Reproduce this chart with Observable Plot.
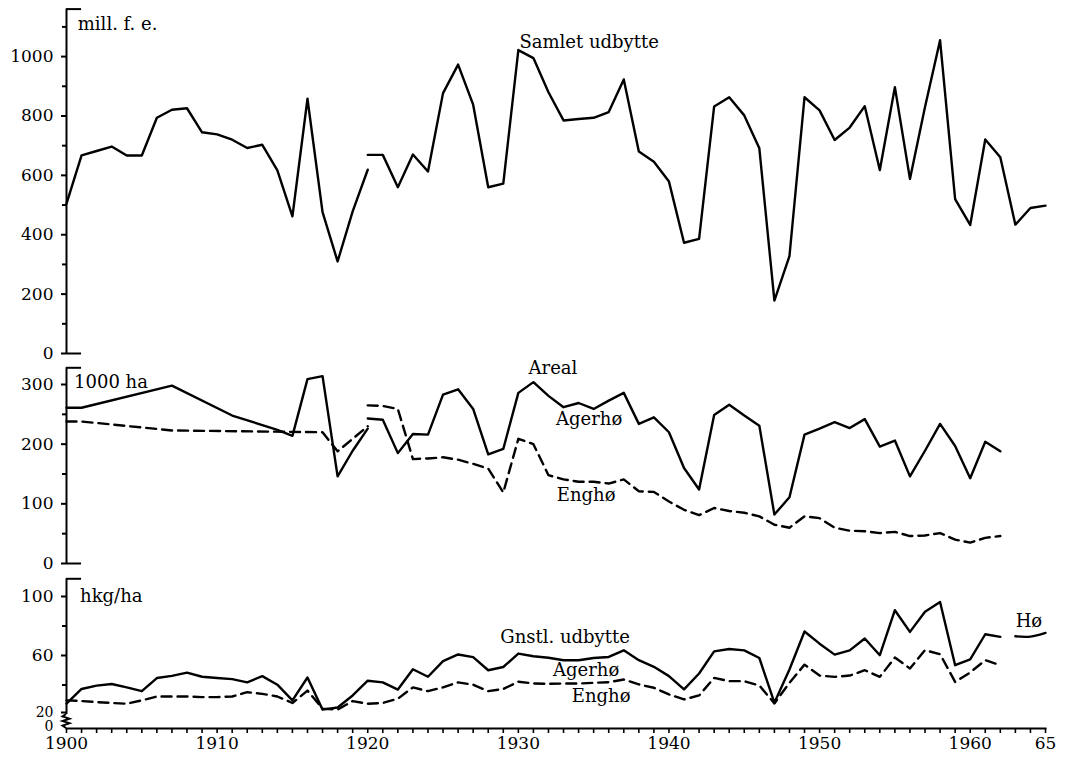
<!DOCTYPE html>
<html><head><meta charset="utf-8">
<script src="https://cdn.jsdelivr.net/npm/d3@7"></script>
<script src="https://cdn.jsdelivr.net/npm/@observablehq/plot@0.6"></script>
<style>
html,body{margin:0;padding:0;background:#fff;}
#chart{width:1068px;height:763px;position:relative;overflow:hidden;background:#fff;}
#chart svg{display:block;}
</style></head><body><div id="chart"></div>
<script>
// ---- Samlet udbytte (mill. f. e.) ----
const yearsOld = [1900,1901,1902,1903,1904,1905,1906,1907,1908,1909,1910,1911,1912,1913,1914,1915,1916,1917,1918,1919,1920];
const samletOld = [505,667,682,697,667,667,794,821,826,745,738,720,692,703,617,462,858,476,310,479,619];
const yearsNew = [1920,1921,1922,1923,1924,1925,1926,1927,1928,1929,1930,1931,1932,1933,1934,1935,1936,1937,1938,1939,1940,1941,1942,1943,1944,1945,1946,1947,1948,1949,1950,1951,1952,1953,1954,1955,1956,1957,1958,1959,1960,1961,1962,1963,1964,1965];
const samletNew = [669,669,560,670,613,877,973,838,560,572,1022,995,880,785,790,794,813,923,680,646,579,373,386,832,863,802,691,178,328,863,819,719,761,833,618,897,588,830,1055,520,433,721,661,434,490,498];

// ---- Areal (1000 ha) ----
const arealAgerOldYears = [1900,1901,1907,1911,1914,1915,1916,1917,1918,1919,1920];
const arealAgerOld = [261,261,298,248,224,214,309,314,146,189,226];
const arealEngOldYears = [1900,1901,1907,1917,1918,1919,1920];
const arealEngOld = [238,238,223,220,188,209,230];
const yearsArealNew = [1920,1921,1922,1923,1924,1925,1926,1927,1928,1929,1930,1931,1932,1933,1934,1935,1936,1937,1938,1939,1940,1941,1942,1943,1944,1945,1946,1947,1948,1949,1950,1951,1952,1953,1954,1955,1956,1957,1958,1959,1960,1961,1962];
const arealAgerNew = [243,241,185,217,216,283,292,259,183,192,286,304,281,262,269,259,273,286,234,245,220,160,124,249,266,248,231,82,111,216,226,237,227,242,196,206,146,189,234,197,143,204,188];
const arealEngNew = [265,264,259,175,176,178,174,167,159,119,209,200,148,141,137,137,134,141,121,120,104,90,81,93,88,85,79,65,60,79,76,60,55,54,51,53,46,47,51,40,35,43,46];

// ---- Udbytte pr. ha (hkg/ha) ----
const yearsYield = [1900,1901,1902,1903,1904,1905,1906,1907,1908,1909,1910,1911,1912,1913,1914,1915,1916,1917,1918,1919,1920,1921,1922,1923,1924,1925,1926,1927,1928,1929,1930,1931,1932,1933,1934,1935,1936,1937,1938,1939,1940,1941,1942,1943,1944,1945,1946,1947,1948,1949,1950,1951,1952,1953,1954,1955,1956,1957,1958,1959,1960,1961,1962];
const gnstlYield = [27.3,37.3,39.6,40.7,38.4,35.8,44.7,46.2,48.4,45.6,44.7,44,41.8,46,40.2,29.6,45.1,23.3,24.7,32.9,42.9,41.8,36.9,50.7,45.6,56.2,60.7,58.9,50,52.2,61.3,59.5,58.5,56.8,56.8,58.3,59,63.5,56.8,52.3,46,37,47.8,62.8,64.4,63.5,58.3,28,50.5,76.3,68,60.6,63.5,71.5,60.2,90.7,76,89.6,96.3,53.4,57.3,74.4,72.6];
const hoejYield = [29.6,29.1,28.4,27.8,27.3,29.6,32.2,32.2,32.2,31.8,31.8,32.2,35.1,34,32.2,27.8,36.2,24,23.3,29.1,27.3,27.8,30.7,38.4,35.8,38.4,41.8,40.2,35.8,37.3,42.2,41,40.8,41,41,41.5,41.9,43.7,40.4,38.1,33.6,30.2,32.9,44.8,42.6,42.6,39.7,27.5,41.5,53.8,46.4,45.5,46.4,50,45.5,58.6,51.2,63.6,60.9,42.1,48.5,56.8,53.4];
const hoYears = [1963,1964,1965];
const hoYield = [73,72.8,75.3];

// tick values
const ticksA = [0,200,400,600,800,1000];
const minorA = [100,300,500,700,900,1100];
const ticksB = [0,100,200,300];
const minorB = [50,150,250];
const ticksC = [60,100];
const minorC = [40,80];
const xLabelYears = [1900,1910,1920,1930,1940,1950,1960,1965];
const xTickYears = d3.range(1900, 1966);

const rows = (ys, vs) => ys.map((year, i) => ({year, value: vs[i]}));

const W = 1068, ML = 66, MR = 23;
const FONT = "DejaVu Serif";
const LW = 2.4, DASH = "10,6";
const style = {fontFamily: FONT, fontSize: "17px", color: "black", background: "transparent", overflow: "visible"};
const plain = d => String(d);

function axisMarks(ticks, minor, top, bottomBracket) {
  return [
    Plot.ruleX([1900], {y1: bottomBracket, y2: top, strokeWidth: 2}),
    Plot.ruleY([top], {x1: 1900, x2: 1901, strokeWidth: 2}),
    Plot.axisY(ticks, {tickSize: 5, tickPadding: 8, fontSize: 17, strokeWidth: 2, tickFormat: plain, label: null}),
    Plot.axisY(minor, {tickSize: 4, tickFormat: () => "", strokeWidth: 2, label: null})
  ];
}

const lbl = (t, x, y, anchor = "middle") => Plot.text([t], {x, y, textAnchor: anchor, lineAnchor: "middle", fontSize: 18, fill: "black"});

// Panel A
const plotA = Plot.plot({
  width: W, height: 360, marginLeft: ML, marginRight: MR, marginTop: 8, marginBottom: 7,
  x: {domain: [1900, 1965], axis: null},
  y: {domain: [0, 1162], axis: null},
  style,
  marks: [
    ...axisMarks(ticksA, minorA, 1160, 0),
    Plot.ruleY([0], {x1: 1900, x2: 1901, strokeWidth: 2}),
    Plot.line(rows(yearsOld, samletOld), {x: "year", y: "value", stroke: "black", strokeWidth: LW}),
    Plot.line(rows(yearsNew, samletNew), {x: "year", y: "value", stroke: "black", strokeWidth: LW}),
    lbl("mill. f. e.", 1900.75, 1110, "start"),
    lbl("Samlet udbytte", 1934.7, 1050)
  ]
});

// Panel B
const plotB = Plot.plot({
  width: W, height: 210, marginLeft: ML, marginRight: MR, marginTop: 7, marginBottom: 7,
  x: {domain: [1900, 1965], axis: null},
  y: {domain: [0, 328.5], axis: null},
  style,
  marks: [
    ...axisMarks(ticksB, minorB, 328, 0),
    Plot.ruleY([0], {x1: 1900, x2: 1901, strokeWidth: 2}),
    Plot.line(rows(arealAgerOldYears, arealAgerOld), {x: "year", y: "value", stroke: "black", strokeWidth: LW}),
    Plot.line(rows(arealEngOldYears, arealEngOld), {x: "year", y: "value", stroke: "black", strokeWidth: LW, strokeDasharray: DASH}),
    Plot.line(rows(yearsArealNew, arealAgerNew), {x: "year", y: "value", stroke: "black", strokeWidth: LW}),
    Plot.line(rows(yearsArealNew, arealEngNew), {x: "year", y: "value", stroke: "black", strokeWidth: LW, strokeDasharray: DASH}),
    lbl("1000 ha", 1900.5, 304, "start"),
    lbl("Areal", 1932.3, 327),
    lbl("Agerhø", 1934.7, 241),
    lbl("Enghø", 1934.5, 114)
  ]
});

// Panel C
const plotC = Plot.plot({
  width: W, height: 193, marginLeft: ML, marginRight: MR, marginTop: 8, marginBottom: 35,
  x: {domain: [1900, 1965], axis: null},
  y: {domain: [10.5, 112.2], axis: null},
  style,
  marks: [
    Plot.ruleX([1900], {y1: 20, y2: 112, strokeWidth: 2}),
    Plot.ruleY([112], {x1: 1900, x2: 1901, strokeWidth: 2}),
    Plot.axisY(ticksC, {tickSize: 5, tickPadding: 8, fontSize: 17, strokeWidth: 2, tickFormat: plain, label: null}),
    Plot.axisY([20], {tickSize: 5, tickPadding: 8, fontSize: 14, dy: -2, strokeWidth: 2, tickFormat: plain, label: null}),
    Plot.axisY(minorC, {tickSize: 4, tickFormat: () => "", strokeWidth: 2, label: null}),
    Plot.axisY([10.5], {tickSize: 0, tickPadding: 13, fontSize: 14, dy: -2, tickFormat: () => "0", label: null}),
    Plot.frame({anchor: "bottom", strokeWidth: 2}),
    Plot.axisX(xTickYears, {tickSize: 5, tickFormat: () => "", strokeWidth: 1.6, label: null}),
    Plot.axisX(xLabelYears, {tickSize: 0, tickPadding: 8, fontSize: 17, tickFormat: d => d === 1965 ? "65" : String(d), label: null}),
    Plot.line(rows(yearsYield, gnstlYield), {x: "year", y: "value", stroke: "black", strokeWidth: LW}),
    Plot.line(rows(yearsYield, hoejYield), {x: "year", y: "value", stroke: "black", strokeWidth: LW, strokeDasharray: DASH}),
    Plot.line(rows(hoYears, hoYield), {x: "year", y: "value", stroke: "black", strokeWidth: LW, curve: "natural"}),
    lbl("hkg/ha", 1900.9, 100.4, "start"),
    lbl("Gnstl. udbytte", 1933.1, 72.6),
    lbl("Agerhø", 1934.5, 50),
    lbl("Enghø", 1935.5, 32.4),
    lbl("Hø", 1963.9, 83)
  ]
});

// axis break (zigzag) between 0 and 20 on the yield axis
{
  const sx = plotC.scale("x"), sy = plotC.scale("y");
  const x0 = sx.apply(1900), yT = sy.apply(20), yB = sy.apply(10.5);
  const n = 6, h = (yB - yT) / n;
  const pts = [[x0, yT]];
  for (let i = 1; i < n; i++) pts.push([x0 + (i % 2 ? -3.5 : 3.5), yT + i * h]);
  pts.push([x0, yB]);
  d3.select(plotC).append("path")
    .attr("d", d3.line()(pts))
    .attr("fill", "none").attr("stroke", "black").attr("stroke-width", 2);
}

const chart = document.getElementById("chart");
chart.append(plotA, plotB, plotC);
</script></body></html>
